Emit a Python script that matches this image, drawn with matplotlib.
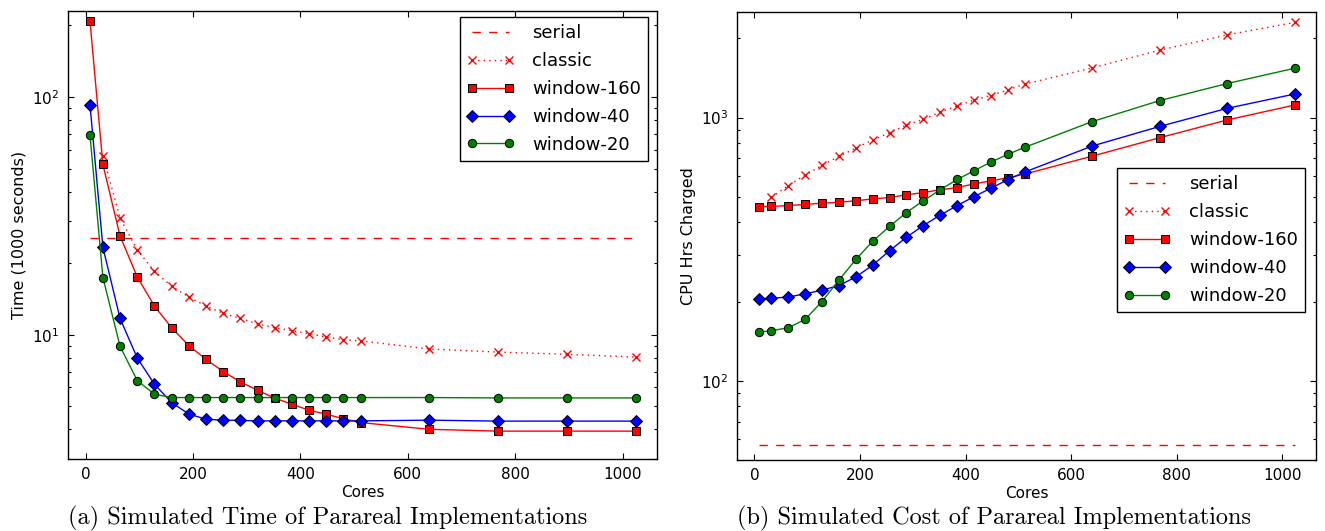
import matplotlib
matplotlib.use("Agg")
import matplotlib.pyplot as plt
from matplotlib.ticker import NullFormatter

# cores used for each run (classic has no 8-core point)
cores = [8, 32, 64, 96, 128, 160, 192, 224, 256, 288, 320, 352, 384, 416,
         448, 480, 512, 640, 768, 896, 1024]
classic_cores = cores[1:]

# (a) simulated time, 1000 seconds
time_serial = 25.6
time_classic = [56.7, 31.0, 22.7, 18.5, 16.0, 14.4, 13.2, 12.3, 11.7, 11.1,
                10.7, 10.4, 10.1, 9.78, 9.52, 9.42, 8.71, 8.45, 8.27, 8.05]
time_w160 = [208, 52, 26.0, 17.5, 13.2, 10.7, 9.0, 7.88, 7.0, 6.33, 5.84,
             5.41, 5.1, 4.81, 4.63, 4.43, 4.27, 4.0, 3.93, 3.93, 3.93]
time_w40 = [92.5, 23.3, 11.7, 7.98, 6.19, 5.18, 4.64, 4.41, 4.37, 4.36, 4.34,
            4.34, 4.34, 4.34, 4.34, 4.34, 4.34, 4.37, 4.33, 4.33, 4.33]
time_w20 = [69, 17.4, 8.93, 6.41, 5.62, 5.44, 5.44, 5.44, 5.44, 5.44, 5.44,
            5.44, 5.44, 5.44, 5.44, 5.44, 5.44, 5.44, 5.42, 5.42, 5.42]

# (b) simulated cost, CPU hours charged
cost_serial = 56.9
cost_classic = [498, 552, 604, 659, 712, 766, 822, 876, 937, 985, 1050, 1107,
                1167, 1213, 1274, 1340, 1546, 1804, 2064, 2300]
cost_w160 = [459, 460, 463, 468, 473, 477, 483, 491, 497, 509, 519, 532, 542,
             560, 575, 591, 610, 714, 839, 980, 1117]
cost_w40 = [205, 206, 208, 214, 221, 230, 248, 275, 312, 351, 389, 426, 463,
            501, 539, 581, 621, 780, 926, 1085, 1230]
cost_w20 = [153, 155, 159, 171, 200, 241, 289, 339, 386, 436, 483, 532, 582,
            628, 678, 725, 771, 966, 1161, 1348, 1541]

plt.rcParams["font.family"] = ["DejaVu Sans"]
fig = plt.figure(figsize=(13.25, 5.31), dpi=100, facecolor="white")

ax1 = fig.add_axes([68 / 1325, 1 - 459 / 531, 589 / 1325, 448 / 531])
ax2 = fig.add_axes([737 / 1325, 1 - 460 / 531, 579 / 1325, 448 / 531])


def draw(ax, serial, classic, w160, w40, w20):
    mk = dict(mec="k", mew=0.7)
    ax.plot([cores[0], cores[-1]], [serial, serial], color="r", ls="--",
            lw=1.0, dashes=(6, 6), label="serial")
    ax.plot(classic_cores, classic, color="r", ls=(0, (1, 3)), lw=1.0,
            marker="x", ms=6, mew=1.0, label="classic")
    ax.plot(cores, w160, color="r", lw=1.0, marker="s", ms=6, mfc="r",
            label="window-160", **mk)
    ax.plot(cores, w40, color="b", lw=1.0, marker="D", ms=6.5, mfc="b",
            label="window-40", **mk)
    ax.plot(cores, w20, color="g", lw=1.0, marker="o", ms=6, mfc="g",
            label="window-20", **mk)
    ax.set_yscale("log")
    ax.set_xlim(-33, 1064)
    ax.set_xticks([0, 200, 400, 600, 800, 1000])
    ax.yaxis.set_minor_formatter(NullFormatter())
    ax.tick_params(which="both", direction="in", top=True, right=True,
                   labelsize=11, width=0.8)
    ax.tick_params(which="major", length=4.5, pad=6)
    ax.tick_params(which="minor", length=2.5)
    for s in ax.spines.values():
        s.set_linewidth(1.0)
    ax.set_xlabel("Cores", fontsize=11, labelpad=2)


leg = dict(loc="upper right", fontsize=13, numpoints=2, fancybox=False,
           framealpha=1, edgecolor="k", labelspacing=0.55, borderaxespad=0,
           handlelength=2.6, handletextpad=1.0)

draw(ax1, time_serial, time_classic, time_w160, time_w40, time_w20)
ax1.set_ylim(3, 230)
ax1.set_ylabel("Time (1000 seconds)", fontsize=11.5)
ax1.legend(bbox_to_anchor=(0.985, 0.987), **leg)

draw(ax2, cost_serial, cost_classic, cost_w160, cost_w40, cost_w20)
ax2.set_ylim(50, 2520)
ax2.set_ylabel("CPU Hrs Charged", fontsize=11.5)
ax2.legend(bbox_to_anchor=(0.981, 0.652), **leg)

cap = dict(fontsize=17.5, family=["cmr10", "DejaVu Serif"], va="center")
fig.text(68 / 1325, 1 - 518 / 531,
         "(a) Simulated Time of Parareal Implementations", ha="left", **cap)
fig.text(737 / 1325, 1 - 518 / 531,
         "(b) Simulated Cost of Parareal Implementations", ha="left", **cap)

fig.savefig("out.png", dpi=100, facecolor="white")
